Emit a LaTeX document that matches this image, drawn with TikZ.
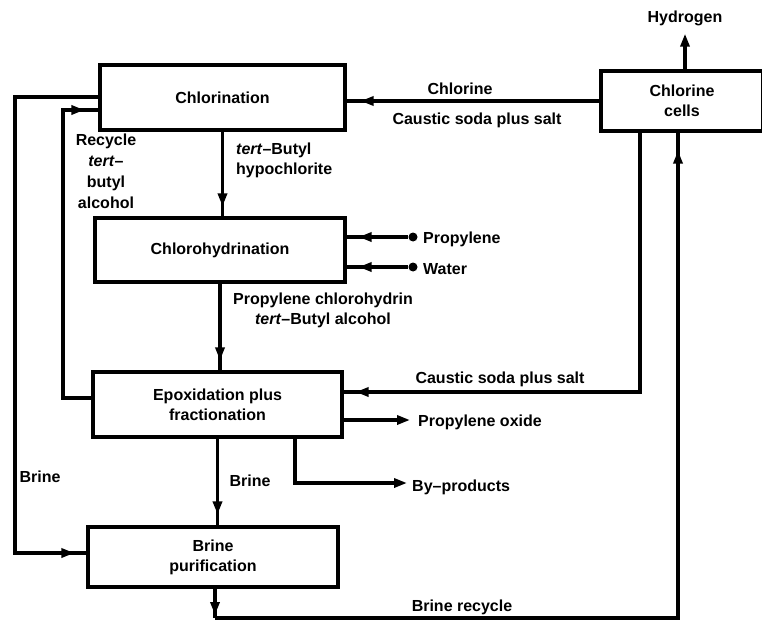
\documentclass[tikz,border=0pt]{standalone}
\usepackage{fontspec}
\setmainfont{Liberation Sans}
\usetikzlibrary{arrows.meta,decorations.markings,calc}
\begin{document}
\begin{tikzpicture}[x=1pt,y=-1pt,
  every node/.style={font=\fontsize{16}{20}\selectfont\bfseries},
  box/.style={draw, line width=3.2pt, align=center, inner sep=2pt},
  lab/.style={inner sep=0pt, align=center},
  flow/.style={line width=3.2pt},
  arrat/.style={postaction={decorate}, decoration={markings,
      mark=at position #1 with {\arrow{Triangle[length=13pt,width=9pt]}}}},
  endarr/.style={-{Triangle[length=13pt,width=9pt]}},
  dotnode/.style={circle, fill, inner sep=0pt, minimum size=9pt}]
\useasboundingbox (0,0) rectangle (762,623);

% boxes
\node[box, minimum width=245pt, minimum height=65pt] (chl) at (222.5,97.5) {Chlorination};
\node[box, minimum width=162pt, minimum height=60pt] (cells) at (682,101) {Chlorine\\cells};
\node[box, minimum width=250pt, minimum height=64pt] (chd) at (220,250) {Chlorohydrination};
\node[box, minimum width=249pt, minimum height=65pt] (epx) at (217.5,404.5) {Epoxidation plus\\fractionation};
\node[box, minimum width=250pt, minimum height=60pt] (bp) at (213,557) {Brine\\purification};

% labels
\node[lab] (hyd) at (685,18) {Hydrogen};
\node[lab] at (460,89) {Chlorine};
\node[lab] at (477,120) {Caustic soda plus salt};
\node[lab, font=\fontsize{16}{21}\selectfont\bfseries] at (106,171) {Recycle\\\textit{tert}–\\butyl\\alcohol};
\node[lab, align=left, anchor=west] at (236,160) {\textit{tert}–Butyl\\hypochlorite};
\node[lab] at (323,310) {Propylene chlorohydrin\\\textit{tert}–Butyl alcohol};
\node[lab] at (500,379) {Caustic soda plus salt};
\node[lab, anchor=west] at (418,422) {Propylene oxide};
\node[lab, anchor=west] at (412,487) {By–products};
\node[lab] at (40,477) {Brine};
\node[lab] at (250,481) {Brine};
\node[lab] at (462,607) {Brine recycle};

% feeds
\node[dotnode] (pd) at (413,237) {};
\node[dotnode] (wd) at (413,267) {};
\node[lab, anchor=west] at (423,239) {Propylene};
\node[lab, anchor=west] at (423,269) {Water};
\draw[flow, arrat=-12pt] (pd) -- (pd -| chd.east);
\draw[flow, arrat=-12pt] (wd) -- (wd -| chd.east);

% hydrogen
\draw[flow, endarr] (cells.north -| hyd) -- ([yshift=-8pt]hyd.south);

% chlorine
\draw[flow, arrat=-14pt] (cells.west) -- (cells.west -| chl.east);

% main chain
\draw[flow, arrat=-10pt] (chl.south) -- (chl.south |- chd.north);
\draw[flow, arrat=-10pt] (chd.south) -- (chd.south |- epx.north);
\draw[flow, arrat=-11pt] (epx.south) -- (epx.south |- bp.north);

% caustic soda return
\coordinate (k1) at (640,392);
\draw[flow, arrat=-12pt] (cells.south -| k1) -- (k1) -- (epx.east |- k1);

% recycle tert-butyl alcohol
\coordinate (rb) at (63,398);
\coordinate (rt) at (63,110);
\draw[flow, arrat=-14pt] (epx.west |- rb) -- (rb) -- (rt) -- (chl.west |- rt);

% brine left
\coordinate (b1) at (15,97);
\coordinate (b2) at (15,553);
\draw[flow, arrat=-12pt] (chl.west |- b1) -- (b1) -- (b2) -- (bp.west |- b2);

% products
\coordinate (po) at (410,420);
\draw[flow, endarr] (epx.east |- po) -- (po);
\coordinate (by1) at (295,483);
\coordinate (by2) at (407,483);
\draw[flow, endarr] (epx.south -| by1) -- (by1) -- (by2);

% brine recycle
\coordinate (r1) at (215,618);
\coordinate (r2) at (678,618);
\draw[flow, arrat=-3pt] (bp.south -| r1) -- (r1);
\draw[flow, arrat=-18pt] (r1) -- (r2) -- (cells.south -| r2);
\end{tikzpicture}
\end{document}
